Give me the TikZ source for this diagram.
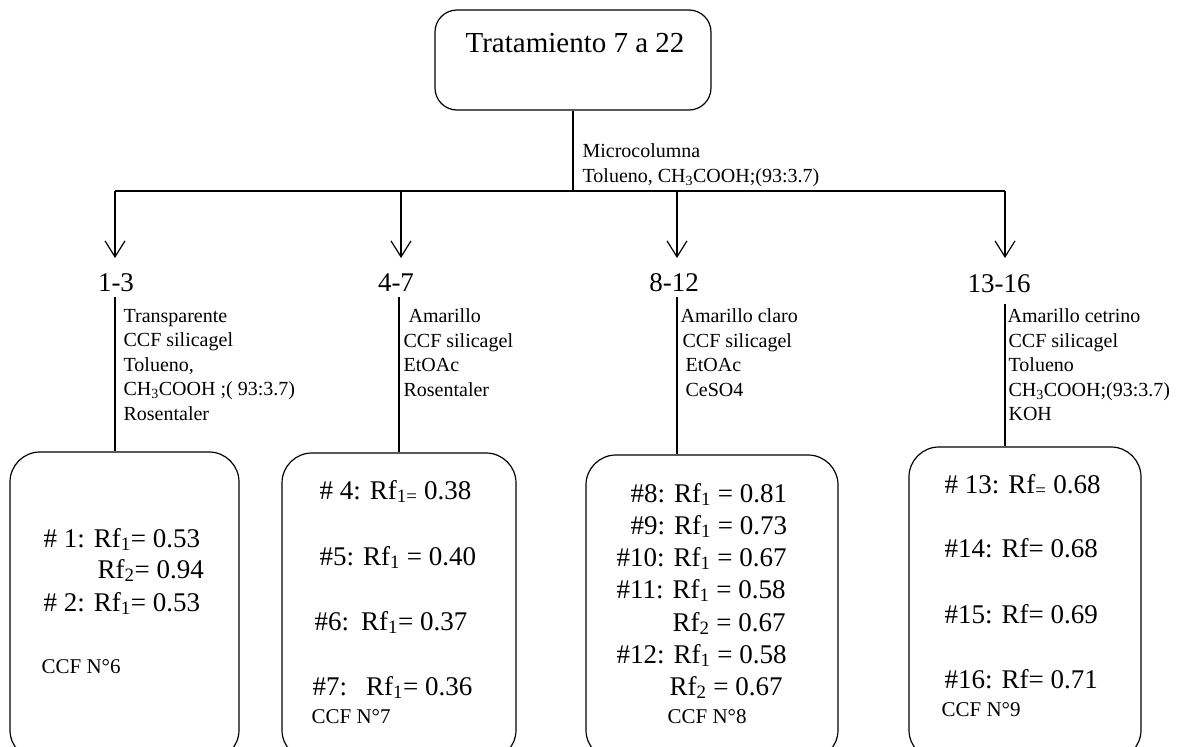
\documentclass[tikz,border=0pt]{standalone}
\usepackage{fontspec}
\setmainfont{Liberation Serif}
\usetikzlibrary{arrows.meta}
\begin{document}
\begin{tikzpicture}[x=1pt,y=-1pt,line width=1.2pt,
  rbox/.style={draw,rounded corners=30pt,inner sep=0pt},
  arr/.style={-{Straight Barb[length=16pt,width=20pt]}},
  ttl/.style={font=\fontsize{29}{34}\selectfont,anchor=base,inner sep=0pt},
  lbl/.style={font=\fontsize{27}{30}\selectfont,anchor=base,inner sep=0pt},
  side/.style={font=\fontsize{20}{24.5}\selectfont,align=left,anchor=north west,inner sep=0pt},
  rf/.style={font=\fontsize{27}{32}\selectfont,anchor=base west,inner sep=0pt},
  ccf/.style={font=\fontsize{21}{24}\selectfont,anchor=base west,inner sep=0pt}]
\useasboundingbox (0,0) rectangle (1179,747);
\clip (0,0) rectangle (1179,747);
% top box
\node[rbox,rounded corners=22pt,minimum width=276pt,minimum height=100pt] (top) at (573,60) {};
\node[ttl] (title) at (575,52) {Tratamiento 7 a 22};
\node[side,text depth=0pt] (micro) at (582,143.5) {Microcolumna\\Tolueno, CH\textsubscript{3}COOH;(93:3.7)};
% bar
\coordinate (b0) at (573,191);
\coordinate (c1) at (115,191);
\coordinate (c2) at (401,191);
\coordinate (c3) at (677,191);
\coordinate (c4) at (1005,191);
\coordinate (t1) at (115,258);
\coordinate (t2) at (401,258);
\coordinate (t3) at (677,258);
\coordinate (t4) at (1005,258);
\draw (top.south -| b0) -- (b0);
\draw (c1) -- (c4);
\draw[arr] (c1) -- (t1);
\draw[arr] (c2) -- (t2);
\draw[arr] (c3) -- (t3);
\draw[arr] (c4) -- (t4);
% labels
\node[lbl] (l1) at (116,291) {1-3};
\node[lbl] (l2) at (396,291) {4-7};
\node[lbl] (l3) at (674,291) {8-12};
\node[lbl] (l4) at (999,292) {13-16};
% side texts
\node[side] (s1) at (123,308.5) {Transparente\\CCF silicagel\\Tolueno,\\CH\textsubscript{3}COOH ;( 93:3.7)\\Rosentaler};
\node[side] (s2) at (403,308.5) {\hspace{5pt}Amarillo\\CCF silicagel\\EtOAc\\Rosentaler};
\node[side] (s3) at (680,308.5) {Amarillo claro\\\hspace{2pt}CCF silicagel\\\hspace{5pt}EtOAc\\\hspace{5pt}CeSO4};
\node[side] (s4) at (1007,308.5) {Amarillo cetrino\\\hspace{1pt}CCF silicagel\\\hspace{1pt}Tolueno\\\hspace{1pt}CH\textsubscript{3}COOH;(93:3.7)\\\hspace{1pt}KOH};
% boxes
\node[rbox,minimum width=229pt,minimum height=308pt] (box1) at (124.5,606) {};
\node[rbox,minimum width=234pt,minimum height=307pt] (box2) at (399,606.5) {};
\node[rbox,minimum width=252pt,minimum height=305pt] (box3) at (712,607.5) {};
\node[rbox,minimum width=232pt,minimum height=313pt] (box4) at (1025,603.5) {};
\coordinate (d1) at (115,297);
\coordinate (d2) at (399,297);
\coordinate (d3) at (677,297);
\coordinate (d4) at (1005,304);
\draw (d1) -- (d1 |- box1.north);
\draw (d2) -- (d2 |- box2.north);
\draw (d3) -- (d3 |- box3.north);
\draw (d4) -- (d4 |- box4.north);
% box 1
\node[rf] (r1a) at (43,547) {\# 1: Rf\textsubscript{1}= 0.53};
\node[rf] (r1b) at (97,578) {Rf\textsubscript{2}= 0.94};
\node[rf] (r1c) at (43,611) {\# 2: Rf\textsubscript{1}= 0.53};
\node[ccf] (k1) at (41,673) {CCF N°6};
% box 2
\node[rf] (r2a) at (319,499) {\# 4: Rf\textsubscript{1=} 0.38};
\node[rf] (r2b) at (319,565) {\#5: Rf\textsubscript{1} = 0.40};
\node[rf] (r2c) at (314,630) {\#6:\hspace{12pt}Rf\textsubscript{1}= 0.37};
\node[rf] (r2d) at (312,695) {\#7:\hspace{19pt}Rf\textsubscript{1}= 0.36};
\node[ccf] (k2) at (311,723) {CCF N°7};
% box 3
\node[rf] (r3a) at (630,502) {\#8: Rf\textsubscript{1} = 0.81};
\node[rf] (r3b) at (630,534) {\#9: Rf\textsubscript{1} = 0.73};
\node[rf] (r3c) at (616,566) {\#10: Rf\textsubscript{1} = 0.67};
\node[rf] (r3d) at (616,598) {\#11: Rf\textsubscript{1} = 0.58};
\node[rf] (r3e) at (672,631) {Rf\textsubscript{2} = 0.67};
\node[rf] (r3f) at (616,663) {\#12: Rf\textsubscript{1} = 0.58};
\node[rf] (r3g) at (669,695) {Rf\textsubscript{2} = 0.67};
\node[ccf] (k3) at (667,723) {CCF N°8};
% box 4
\node[rf] (r4a) at (944,493) {\# 13: Rf\textsubscript{=} 0.68};
\node[rf] (r4b) at (944,557) {\#14: Rf= 0.68};
\node[rf] (r4c) at (944,623) {\#15: Rf= 0.69};
\node[rf] (r4d) at (944,688) {\#16: Rf= 0.71};
\node[ccf] (k4) at (941,716) {CCF N°9};
\end{tikzpicture}
\end{document}
